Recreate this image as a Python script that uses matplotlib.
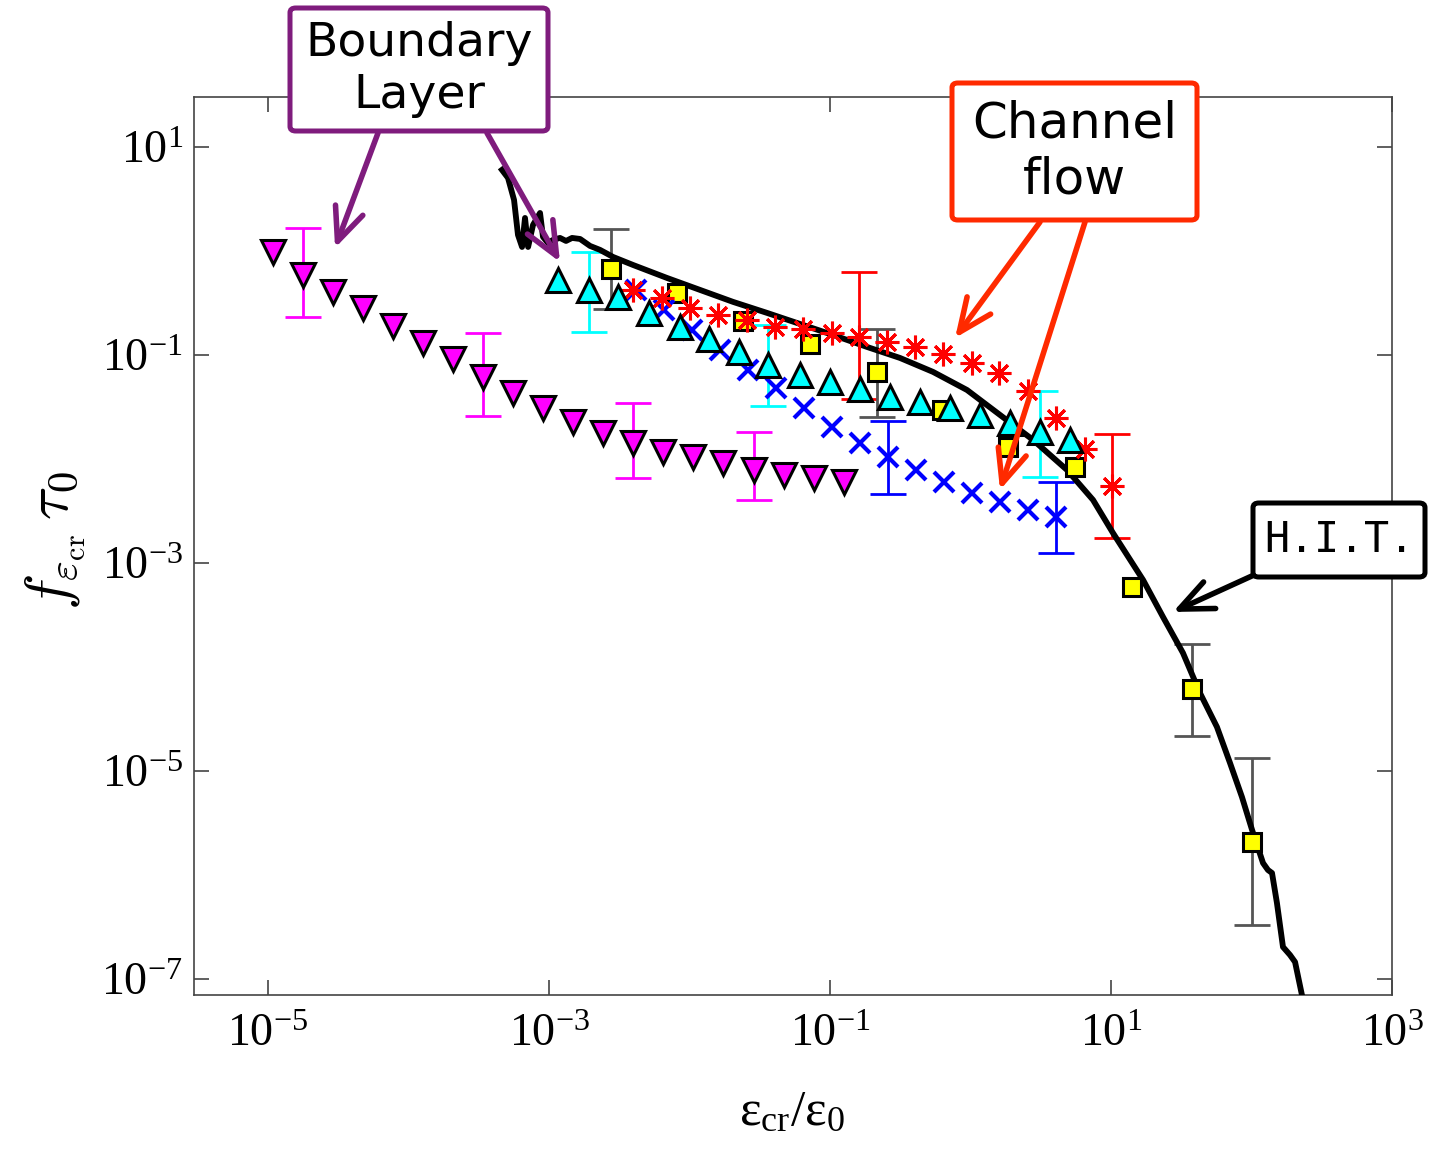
import numpy as np
import matplotlib.pyplot as plt
from matplotlib.patches import FancyBboxPatch
from matplotlib.ticker import FuncFormatter, NullLocator

W, H = 1439, 1158

# all values stored as log10 exponents

# boundary layer (magenta, down triangles)
bl_x = [-4.967, -4.753, -4.540, -4.326, -4.112, -3.899, -3.685, -3.472, -3.258, -3.045,
        -2.829, -2.616, -2.402, -2.189, -1.975, -1.762, -1.541, -1.327, -1.114, -0.900]
bl_y = [-0.007, -0.231, -0.392, -0.551, -0.721, -0.882, -1.041, -1.209, -1.368, -1.512,
        -1.644, -1.750, -1.846, -1.933, -1.981, -2.038, -2.106, -2.154, -2.183, -2.221]
bl_err_idx = [1, 7, 12, 16]
bl_err_hi = [0.218, -0.786, -1.462, -1.738]
bl_err_lo = [-0.638, -1.587, -2.180, -2.394]

# channel flow 1 (cyan, up triangles)
cy_x = [-2.936, -2.715, -2.509, -2.288, -2.068, -1.861, -1.648, -1.441, -1.214, -1.000,
        -0.786, -0.573, -0.359, -0.146, 0.068, 0.281, 0.495, 0.708]
cy_y = [-0.279, -0.375, -0.442, -0.596, -0.731, -0.846, -0.971, -1.096, -1.192, -1.260,
        -1.327, -1.404, -1.452, -1.510, -1.577, -1.654, -1.740, -1.817]
cy_err_idx = [1, 7, 16]
cy_err_hi = [-0.007, -0.712, -1.343]
cy_err_lo = [-0.776, -1.490, -2.170]

# channel flow 2 (blue, x)
bx_x = [-2.381, -2.181, -1.982, -1.783, -1.584, -1.384, -1.185, -0.986, -0.786, -0.587,
        -0.388, -0.189, 0.011, 0.210, 0.409, 0.609]
bx_y = [-0.375, -0.567, -0.760, -0.952, -1.144, -1.317, -1.510, -1.692, -1.846, -1.981,
        -2.106, -2.221, -2.327, -2.413, -2.490, -2.558]
bx_err_idx = [9, 15]
bx_err_hi = [-1.632, -2.218]
bx_err_lo = [-2.337, -2.901]

# channel flow 3 (red, asterisks)
rs_x = [-2.402, -2.196, -1.996, -1.797, -1.591, -1.391, -1.192, -0.986, -0.794, -0.594,
        -0.395, -0.196, 0.011, 0.203, 0.409, 0.609, 0.815, 1.007]
rs_y = [-0.375, -0.452, -0.548, -0.615, -0.663, -0.731, -0.750, -0.788, -0.827, -0.875,
        -0.923, -0.990, -1.077, -1.173, -1.346, -1.606, -1.904, -2.260]
rs_err_idx = [8, 17]
rs_err_hi = [-0.205, -1.760]
rs_err_lo = [-1.426, -2.763]

# H.I.T. (yellow squares)
sq_x = [-2.559, -2.089, -1.619, -1.142, -0.665, -0.203, 0.267, 0.744, 1.149, 1.577, 2.004]
sq_y = [-0.173, -0.404, -0.673, -0.894, -1.163, -1.529, -1.885, -2.077, -3.231, -4.212, -5.683]
sq_err_idx = [0, 4, 9, 10]
sq_err_hi = [0.212, -0.750, -3.779, -4.872]
sq_err_lo = [-0.558, -1.599, -4.663, -6.481]

# H.I.T. DNS curve (black)
hit_x = [-3.335, -3.292, -3.249, -3.221, -3.192, -3.171, -3.149, -3.114, -3.064, -3.043,
         -3.007, -2.972, -2.922, -2.879, -2.836, -2.779, -2.708, -2.637, -2.544, -2.402,
         -2.160, -1.925, -1.690, -1.448, -1.214, -0.979, -0.737, -0.502, -0.267, -0.025,
         0.210, 0.445, 0.687, 0.872, 1.014, 1.228, 1.370, 1.512, 1.633, 1.754,
         1.847, 1.932, 2.004, 2.082, 2.117, 2.146, 2.181, 2.224, 2.274, 2.310, 2.359]
hit_y = [0.779, 0.702, 0.490, 0.154, 0.038, 0.317, 0.038, 0.250, 0.365, 0.135,
         0.077, 0.106, 0.125, 0.096, 0.125, 0.115, 0.048, 0.010, -0.058, -0.135,
         -0.260, -0.375, -0.490, -0.596, -0.702, -0.808, -0.923, -1.029, -1.163, -1.337,
         -1.577, -1.817, -2.106, -2.394, -2.712, -3.163, -3.519, -3.865, -4.250, -4.577,
         -4.923, -5.250, -5.567, -5.885, -5.952, -5.981, -6.269, -6.692, -6.769, -6.837, -7.154]


def p(v):
    return 10.0 ** np.asarray(v, dtype=float)


def draw_err(ax, xs, ys, idx, hi, lo, color):
    x = p(xs)[idx]
    y = p(ys)[idx]
    yerr = [y - p(lo), p(hi) - y]
    ax.errorbar(x, y, yerr=yerr, fmt='none', ecolor=color, elinewidth=2.0,
                capsize=13, capthick=2.0, zorder=2)


plt.rcParams['mathtext.fontset'] = 'custom'
plt.rcParams['mathtext.rm'] = 'Liberation Serif'
plt.rcParams['mathtext.it'] = 'Liberation Serif:italic'

fig = plt.figure(figsize=(W / 100, H / 100), dpi=100)
ax = fig.add_axes([194 / W, 1 - 995 / H, (1392 - 194) / W, (995 - 97) / H])
ax.set_xscale('log')
ax.set_yscale('log')
ax.set_xlim(10 ** -5.527, 10 ** 3)
ax.set_ylim(10 ** -7.154, 10 ** 1.48)

draw_err(ax, bl_x, bl_y, bl_err_idx, bl_err_hi, bl_err_lo, '#FF00FF')
draw_err(ax, cy_x, cy_y, cy_err_idx, cy_err_hi, cy_err_lo, '#00FFFF')
draw_err(ax, bx_x, bx_y, bx_err_idx, bx_err_hi, bx_err_lo, '#0000FF')
draw_err(ax, rs_x, rs_y, rs_err_idx, rs_err_hi, rs_err_lo, '#FF0000')
draw_err(ax, sq_x, sq_y, sq_err_idx, sq_err_hi, sq_err_lo, '#555555')

ax.plot(p(hit_x), p(hit_y), color='black', lw=4.2, zorder=3, solid_joinstyle='round')
ax.plot(p(sq_x), p(sq_y), 's', ms=12.5, mfc='#FFFF00', mec='black', mew=2.2, zorder=4)
ax.plot(p(bx_x), p(bx_y), 'x', ms=15, mec='#0000FF', mew=3.0, zorder=5)
ax.plot(p(rs_x), p(rs_y), ls='none', marker=(8, 2, 0), ms=17, mec='#FF0000', mew=2.2, zorder=6)
ax.plot(p(cy_x), p(cy_y), '^', ms=17, mfc='#00FFFF', mec='black', mew=2.2, zorder=7)
ax.plot(p(bl_x), p(bl_y), 'v', ms=17, mfc='#FF00FF', mec='black', mew=2.2, zorder=7)

# axes styling
ax.set_xticks(p([-5, -3, -1, 1, 3]))
ax.set_yticks(p([-7, -5, -3, -1, 1]))
ax.xaxis.set_minor_locator(NullLocator())
ax.yaxis.set_minor_locator(NullLocator())
fmt = FuncFormatter(lambda v, pos: r'$\mathregular{10^{%d}}$' % round(np.log10(v)))
ax.xaxis.set_major_formatter(fmt)
ax.yaxis.set_major_formatter(fmt)
ax.tick_params(which='both', direction='in', length=11, width=1.2, color='#444444',
               top=True, right=True, labelsize=33, labelcolor='black',
               labelfontfamily='Liberation Serif')
ax.tick_params(axis='x', pad=13)
ax.tick_params(axis='y', pad=8)
for s in ax.spines.values():
    s.set_color('#444444')
    s.set_linewidth(1.2)

ax.set_xlabel(r'$\mathregular{ε_{cr}/ε_{0}}$', fontsize=37, family='Liberation Serif')
ax.xaxis.set_label_coords((792 - 194) / 1198, (995 - 1090) / 898)
ax.set_ylabel(r'$f_{\varepsilon_{\rm cr}}\,\tau_0$', fontsize=44, math_fontfamily='cm')
ax.yaxis.set_label_coords((88 - 194) / 1198, (995 - 541) / 898)


# annotation boxes (figure pixel coordinates, y measured from top)
def box(x0, y0, x1, y1, color, text, size, family='DejaVu Sans'):
    r = FancyBboxPatch((x0 / W, 1 - y1 / H), (x1 - x0) / W, (y1 - y0) / H,
                       boxstyle='round,pad=0,rounding_size=0.004', transform=fig.transFigure,
                       facecolor='white', edgecolor=color, lw=3.6, zorder=10)
    fig.add_artist(r)
    fig.text((x0 + x1) / 2 / W, 1 - (y0 + y1) / 2 / H, text, ha='center', va='center',
             fontsize=size, family=family, linespacing=1.2, zorder=11)


def arrow(tail, tip, color):
    ax.annotate('', xy=tip, xycoords='data',
                xytext=(tail[0], H - tail[1]), textcoords='figure pixels',
                arrowprops=dict(arrowstyle='->,head_length=0.8,head_width=0.35',
                                mutation_scale=30, color=color, lw=4,
                                shrinkA=0, shrinkB=0),
                annotation_clip=False, zorder=9)


purple = '#7F1C7D'
orange = '#FF2A00'
box(290, 8, 548, 131, purple, 'Boundary\nLayer', 34)
arrow((378, 133), (10 ** -4.523, 10 ** 0.029), purple)
arrow((487, 133), (10 ** -2.922, 10 ** -0.106), purple)

box(952, 83, 1197, 220, orange, 'Channel\nflow', 36)
arrow((1040, 222), (10 ** -0.110, 10 ** -0.837), orange)
arrow((1085, 222), (10 ** 0.210, 10 ** -2.298), orange)

box(1253, 503, 1425, 577, 'black', 'H.I.T.', 30, family='DejaVu Sans Mono')
arrow((1254, 575), (10 ** 1.441, 10 ** -3.471), 'black')

fig.savefig('out.png', dpi=100)
